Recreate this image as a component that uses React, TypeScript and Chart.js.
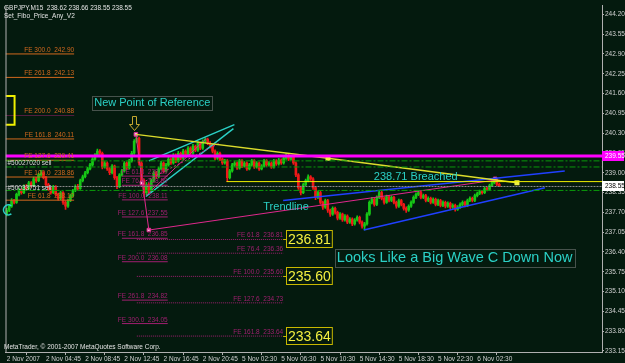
import { useEffect, useRef } from "react";
import { Chart, registerables } from "chart.js";

Chart.register(...registerables);

const symbolName = "GBPJPY,M15";
const indicatorName = "Set_Fibo_Price_Any_V2";
const copyright = "MetaTrader, © 2001-2007 MetaQuotes Software Corp.";

const firstOpen = 237.64;
const closes = [
  237.77, 237.9, 238.09, 238.03, 238.29, 238.42, 238.35, 238.55, 238.48, 238.67,
  238.58, 238.8, 238.74, 238.93, 239.0, 238.84, 238.61, 238.48, 238.35, 238.55,
  238.29, 238.16, 238.35, 238.03, 237.9, 238.09, 238.25, 238.42, 238.55, 238.48,
  238.74, 238.87, 239.0, 239.13, 239.26, 239.45, 239.58, 239.71, 239.64, 239.19,
  239.32, 239.13, 239.0, 239.22, 238.84, 238.55, 238.93, 239.06, 239.32, 239.16,
  239.39, 239.64, 240.03, 240.13, 239.32, 238.74, 238.35, 238.61, 238.42, 238.74,
  239.0, 238.87, 239.13, 239.32, 239.06, 239.26, 239.45, 239.32, 239.58, 239.39,
  239.64, 239.48, 239.71, 239.58, 239.81, 239.64, 239.87, 239.74, 239.97, 239.81,
  240.03, 240.1, 239.97, 239.9, 239.71, 239.48, 239.64, 239.45, 239.32, 239.39,
  238.84, 239.06, 239.26, 239.32, 239.16, 239.39, 239.22, 239.32, 239.13, 239.26,
  239.39, 239.19, 239.32, 239.13, 239.22, 239.39, 239.26, 239.32, 239.19, 239.39,
  239.29, 239.42, 239.32, 239.48, 239.58, 239.45, 239.51, 239.32, 238.93, 238.51,
  238.35, 238.61, 238.74, 238.87, 238.8, 238.51, 238.19, 238.35, 238.03, 237.87,
  238.09, 237.77, 237.64, 237.83, 237.7, 237.51, 237.64, 237.45, 237.58, 237.38,
  237.48, 237.32, 237.45, 237.54, 237.38, 237.25, 237.32, 237.64, 238.03, 238.13,
  237.96, 238.19, 238.35, 238.16, 238.03, 238.22, 238.09, 238.19, 238.03, 237.9,
  238.09, 237.96, 237.83, 237.77, 237.9, 238.03, 238.19, 238.29, 238.35, 238.19,
  238.25, 238.09, 238.16, 238.03, 238.13, 237.96, 238.09, 237.93, 238.03, 237.9,
  238.0, 237.87, 237.93, 237.8, 237.87, 237.96, 238.03, 237.93, 238.09, 238.16,
  238.09, 238.25, 238.32, 238.38, 238.35, 238.48, 238.45, 238.58, 238.67, 238.77,
  238.62, 238.55,
];
const highs = [
  237.83, 237.96, 238.15, 238.13, 238.33, 238.48, 238.47, 238.6, 238.61, 238.72,
  238.71, 238.86, 238.85, 238.98, 239.08, 239.04, 238.88, 238.65, 238.52, 238.59,
  238.58, 238.33, 238.4, 238.38, 238.08, 238.14, 238.3, 238.46, 238.6, 238.62,
  238.79, 238.92, 239.05, 239.18, 239.31, 239.5, 239.63, 239.78, 239.76, 239.68,
  239.37, 239.36, 239.17, 239.27, 239.25, 238.88, 238.97, 239.11, 239.37, 239.36,
  239.44, 239.7, 240.09, 240.26, 240.17, 239.37, 238.8, 238.68, 238.66, 238.8,
  239.06, 239.05, 239.19, 239.38, 239.36, 239.31, 239.51, 239.49, 239.63, 239.62,
  239.7, 239.68, 239.77, 239.75, 239.86, 239.85, 239.93, 239.91, 240.02, 240.01,
  240.08, 240.15, 240.14, 240.02, 239.94, 239.75, 239.69, 239.68, 239.49, 239.44,
  239.43, 239.11, 239.31, 239.37, 239.36, 239.44, 239.43, 239.37, 239.36, 239.31,
  239.44, 239.43, 239.37, 239.36, 239.27, 239.44, 239.43, 239.37, 239.36, 239.44,
  239.43, 239.47, 239.46, 239.53, 239.63, 239.62, 239.57, 239.55, 239.36, 238.97,
  238.56, 238.66, 238.79, 238.93, 238.91, 238.84, 238.55, 238.4, 238.39, 238.07,
  238.14, 238.13, 237.81, 237.88, 237.87, 237.74, 237.69, 237.68, 237.63, 237.62,
  237.53, 237.52, 237.5, 237.59, 237.58, 237.42, 237.37, 237.69, 238.08, 238.19,
  238.17, 238.24, 238.41, 238.39, 238.2, 238.27, 238.26, 238.24, 238.23, 238.07,
  238.14, 238.13, 238.0, 237.88, 237.95, 238.08, 238.24, 238.34, 238.41, 238.39,
  238.3, 238.29, 238.21, 238.2, 238.18, 238.17, 238.14, 238.13, 238.08, 238.07,
  238.05, 238.04, 237.98, 237.97, 237.92, 238.01, 238.08, 238.07, 238.14, 238.21,
  238.2, 238.3, 238.37, 238.43, 238.42, 238.53, 238.52, 238.63, 238.72, 238.81,
  238.8, 238.66,
];
const lows = [
  237.58, 237.72, 237.86, 237.98, 237.99, 238.24, 238.3, 238.31, 238.42, 238.44,
  238.52, 238.55, 238.68, 238.71, 238.89, 238.8, 238.55, 238.42, 238.3, 238.31,
  238.24, 238.1, 238.12, 237.96, 237.8, 237.86, 238.05, 238.21, 238.38, 238.43,
  238.45, 238.7, 238.83, 238.96, 239.09, 239.22, 239.41, 239.54, 239.58, 239.13,
  239.15, 239.08, 238.94, 238.96, 238.78, 238.48, 238.51, 238.89, 239.02, 239.11,
  239.12, 239.35, 239.6, 239.98, 239.25, 238.66, 238.22, 238.28, 238.3, 238.38,
  238.7, 238.81, 238.83, 239.09, 239.0, 239.02, 239.22, 239.27, 239.28, 239.33,
  239.35, 239.43, 239.44, 239.52, 239.54, 239.59, 239.6, 239.69, 239.7, 239.76,
  239.77, 239.99, 239.92, 239.85, 239.65, 239.42, 239.44, 239.4, 239.27, 239.28,
  238.71, 238.8, 239.02, 239.21, 239.11, 239.12, 239.17, 239.18, 239.08, 239.09,
  239.22, 239.14, 239.15, 239.08, 239.09, 239.18, 239.21, 239.22, 239.14, 239.15,
  239.24, 239.25, 239.27, 239.28, 239.44, 239.4, 239.41, 239.27, 238.87, 238.45,
  238.27, 238.31, 238.57, 238.7, 238.75, 238.45, 238.12, 238.15, 237.97, 237.8,
  237.83, 237.7, 237.57, 237.6, 237.64, 237.45, 237.47, 237.4, 237.41, 237.33,
  237.34, 237.26, 237.28, 237.41, 237.32, 237.18, 237.12, 237.28, 237.6, 237.98,
  237.9, 237.92, 238.15, 238.11, 237.97, 237.99, 238.04, 238.05, 237.98, 237.84,
  237.86, 237.91, 237.77, 237.7, 237.73, 237.86, 237.99, 238.15, 238.25, 238.14,
  238.15, 238.04, 238.05, 237.98, 237.99, 237.91, 237.92, 237.88, 237.89, 237.85,
  237.86, 237.82, 237.83, 237.74, 237.76, 237.83, 237.92, 237.88, 237.89, 238.05,
  238.04, 238.05, 238.21, 238.28, 238.3, 238.31, 238.4, 238.41, 238.54, 238.63,
  238.58, 238.55,
];

const xTickIndex = [0, 16, 32, 48, 64, 80, 96, 112, 128, 144, 160, 176, 192];
const xTickLabels = [
  "2 Nov 2007", "2 Nov 04:45", "2 Nov 08:45", "2 Nov 12:45", "2 Nov 16:45", "2 Nov 20:45",
  "5 Nov 02:30", "5 Nov 06:30", "5 Nov 10:30", "5 Nov 14:30", "5 Nov 18:30", "5 Nov 22:30", "6 Nov 02:30",
];
const yTickValues = [
  233.15, 233.8, 234.45, 235.1, 235.75, 236.4, 237.05, 237.7, 238.35, 239.0,
  239.65, 240.3, 240.95, 241.6, 242.25, 242.9, 243.55, 244.2,
];

// horizontal levels
const magentaLevel = 239.55;
const breachLevel = 238.71;
const breachStartIdx = 89.7;
const orderLevels = [239.39, 239.19, 238.42];
const orderLabels = ["#50027020 sell", "#50033751 sell"];
const orderLabelPrices = [239.32, 238.5];

// Fibonacci expansion sets
const leftFeLevels = [300.0, 261.8, 200.0, 161.8, 127.6, 100.0, 61.8];
const leftFePrices = [242.9, 242.13, 240.88, 240.11, 239.41, 238.86, 238.1];
const leftFeSpan = [-0.5, 27.5];
const midFeLevels = [61.8, 76.4, 100.0, 127.6, 161.8, 200.0, 261.8, 300.0];
const midFePrices = [238.89, 238.59, 238.11, 237.55, 236.85, 236.08, 234.82, 234.05];
const midFeSpan = [47.0, 65.7];
const rightFeLevels = [61.8, 76.4, 100.0, 127.6, 161.8];
const rightFePrices = [236.81, 236.36, 235.6, 234.73, 233.64];
const rightFeSpan = [53.1, 112.8];
const targetPrices = [236.81, 235.6, 233.64];
const targetBoxIdx = 113.8;

// drawn objects, as [bar index, price]
const yellowTrendPts = [[52.7, 240.26], [131.1, 239.48], [208.2, 238.67]];
const blueUpperPts = [[112.8, 238.09], [227.7, 239.06]];
const blueLowerPts = [[145.7, 237.12], [219.6, 238.51]];
const pinkTrendPts = [[58.0, 237.12], [200.1, 238.77]];
const pinkSwingPts = [[52.7, 240.26], [58.0, 237.12]];
const pinkWedgePts1 = [[56.8, 238.25], [81.5, 240.13]];
const pinkWedgePts2 = [[55.2, 238.67], [86.8, 239.97]];
const cyanUpperPts = [[58.0, 239.39], [92.9, 240.58]];
const cyanLowerPts = [[56.8, 238.22], [92.5, 240.45]];
const pivotMarkerPts = [[52.7, 240.26], [55.2, 238.67], [58.0, 237.12], [199.3, 238.8]];
const leftBracketPts = [[-0.5, 241.52], [3.2, 241.52], [3.2, 240.58], [-0.5, 240.58]];
const arrowTip = [51.9, 240.39];
const cyanArcCenter = [0.7, 237.78];

const noteTexts = ["New Point of Reference", "238.71 Breached", "Trendline", "Looks Like a Big Wave C Down Now"];
const noteX = [35.7, 149.8, 104.7, 134.7];
const noteY = [241.29, 238.85, 237.88, 236.19];

const X_MIN = -0.5;
const X_MAX = 242.9;

const BG = "#041a0e";
const FONT = "'Liberation Sans', Arial, sans-serif";
const GREEN = "#16c816";
const RED = "#f01818";
const ORANGE = "#d2691e";
const PURPLE = "#a01f70";
const PINK = "#e0288c";
const CYAN = "#2bd1c6";
const AXIS = "#b0b0b0";

const opens = closes.map((_, i) => (i === 0 ? firstOpen : closes[i - 1]));
const candleColors = closes.map((c, i) => (c >= opens[i] ? GREEN : RED));

function line(pts: number[][], color: string, width: number, dash: number[] = []) {
  return {
    type: "line" as const,
    data: pts.map(([x, y]) => ({ x, y })),
    borderColor: color,
    backgroundColor: color,
    borderWidth: width,
    borderDash: dash,
    pointRadius: 0,
    fill: false,
    tension: 0,
    order: 0,
  };
}

const overlay = {
  id: "overlay",
  beforeDraw(chart: any) {
    const { ctx, width, height } = chart;
    ctx.save();
    ctx.fillStyle = BG;
    ctx.fillRect(0, 0, width, height);
    ctx.restore();
  },
  afterDraw(chart: any) {
    const { ctx, chartArea: ca, width } = chart;
    const xs = chart.scales.x;
    const ys = chart.scales.y;
    const px = (v: number) => xs.getPixelForValue(v);
    const py = (v: number) => ys.getPixelForValue(v);
    ctx.save();

    // left frame line
    ctx.strokeStyle = AXIS;
    ctx.lineWidth = 1;
    ctx.beginPath();
    ctx.moveTo(ca.left + 0.5, ca.top);
    ctx.lineTo(ca.left + 0.5, ca.bottom);
    ctx.stroke();

    const small = `6.5px ${FONT}`;
    ctx.font = small;
    ctx.textBaseline = "alphabetic";

    // header
    const n = closes.length - 1;
    ctx.fillStyle = "#e4e4e4";
    ctx.textAlign = "left";
    ctx.fillText(
      `${symbolName}  ${opens[n].toFixed(2)} ${highs[n].toFixed(2)} ${lows[n].toFixed(2)} ${closes[n].toFixed(2)}`,
      4, 10
    );
    ctx.fillText(indicatorName, 4, 18);
    ctx.fillText(copyright, 4, ca.bottom - 3);

    // order labels
    ctx.fillStyle = "#d8d8d8";
    orderLabels.forEach((t, i) => {
      ctx.textBaseline = "middle";
      ctx.fillText(t, px(0.3), py(orderLabelPrices[i]));
    });
    ctx.textBaseline = "alphabetic";

    // FE labels
    ctx.textAlign = "right";
    ctx.fillStyle = ORANGE;
    leftFePrices.forEach((p, i) =>
      ctx.fillText(`FE ${leftFeLevels[i].toFixed(1)}  ${p.toFixed(2)}`, px(leftFeSpan[1]), py(p) - 2)
    );
    ctx.fillStyle = PURPLE;
    midFePrices.forEach((p, i) =>
      ctx.fillText(`FE ${midFeLevels[i].toFixed(1)}  ${p.toFixed(2)}`, px(midFeSpan[1]), py(p) - 2)
    );
    rightFePrices.forEach((p, i) =>
      ctx.fillText(`FE ${rightFeLevels[i].toFixed(1)}  ${p.toFixed(2)}`, px(rightFeSpan[1]), py(p) - 2)
    );

    // yellow target boxes
    ctx.font = `14px ${FONT}`;
    ctx.textAlign = "left";
    ctx.textBaseline = "middle";
    targetPrices.forEach((p) => {
      const y = Math.round(py(p));
      const x0 = Math.round(px(targetBoxIdx));
      const t = p.toFixed(2);
      const w = ctx.measureText(t).width;
      ctx.strokeStyle = "#c8b800";
      ctx.lineWidth = 1;
      ctx.beginPath();
      ctx.moveTo(px(rightFeSpan[1]), y + 0.5);
      ctx.lineTo(x0, y + 0.5);
      ctx.stroke();
      ctx.strokeRect(x0 + 0.5, y - 8.5, w + 3, 17);
      ctx.fillStyle = "#f4f040";
      ctx.fillText(t, x0 + 2, y + 1);
    });

    // cyan notes
    noteTexts.forEach((t, i) => {
      const big = i === 3;
      ctx.font = `${big ? 14.5 : 11}px ${FONT}`;
      ctx.fillStyle = CYAN;
      ctx.textAlign = "left";
      ctx.textBaseline = "middle";
      const x = px(noteX[i]);
      const y = py(noteY[i]);
      ctx.fillText(t, x, y);
      if (i === 0 || big) {
        const w = ctx.measureText(t).width;
        const h = big ? 18 : 14;
        ctx.strokeStyle = "#8a8a8a";
        ctx.setLineDash([1, 1]);
        ctx.strokeRect(Math.round(x - 2) + 0.5, Math.round(y - h / 2) + 0.5, Math.round(w + 4), h);
        ctx.setLineDash([]);
      }
    });

    // down arrow
    const ax = Math.round(px(arrowTip[0])) + 0.5;
    const ay = Math.round(py(arrowTip[1])) + 0.5;
    ctx.strokeStyle = "#c4a830";
    ctx.lineWidth = 1;
    ctx.beginPath();
    ctx.moveTo(ax, ay);
    ctx.lineTo(ax - 5, ay - 6);
    ctx.lineTo(ax - 2, ay - 6);
    ctx.lineTo(ax - 2, ay - 14);
    ctx.lineTo(ax + 2, ay - 14);
    ctx.lineTo(ax + 2, ay - 6);
    ctx.lineTo(ax + 5, ay - 6);
    ctx.closePath();
    ctx.stroke();

    // cyan arc at far left
    ctx.strokeStyle = CYAN;
    ctx.lineWidth = 1.5;
    ctx.beginPath();
    ctx.arc(px(cyanArcCenter[0]), py(cyanArcCenter[1]), 5, Math.PI * 0.3, Math.PI * 1.7);
    ctx.stroke();

    // axis price boxes
    ctx.font = small;
    ctx.textAlign = "left";
    ctx.textBaseline = "middle";
    const ym = Math.round(py(magentaLevel));
    ctx.fillStyle = "#ff00ff";
    ctx.fillRect(ca.right, ym - 5, width - ca.right - 1, 10);
    ctx.fillStyle = "#ffffff";
    ctx.fillText(magentaLevel.toFixed(2), ca.right + 3, ym);
    const yl = Math.round(py(closes[n]));
    ctx.fillStyle = "#ffffff";
    ctx.fillRect(ca.right, yl - 5, width - ca.right - 1, 10);
    ctx.fillStyle = "#000000";
    ctx.fillText(closes[n].toFixed(2), ca.right + 3, yl);

    ctx.restore();
  },
};

export default function App() {
  const ref = useRef<HTMLCanvasElement>(null);
  useEffect(() => {
    document.body.style.margin = "0";
    document.body.style.background = BG;
    const idx = closes.map((_, i) => i);
    const datasets: any[] = [
      line([[X_MIN, magentaLevel], [X_MAX, magentaLevel]], "#ff00ff", 3),
      line([[breachStartIdx, breachLevel], [X_MAX, breachLevel]], "#f0f000", 1),
      ...orderLevels.map((p) => line([[X_MIN, p], [X_MAX, p]], "#0a9a0a", 1, [6, 2, 2, 2])),
      line([[X_MIN, closes[closes.length - 1]], [X_MAX, closes[closes.length - 1]]], "#8c8c8c", 1, [2, 1]),
      { ...line(yellowTrendPts, "#dcdc2c", 1.5), pointRadius: [0, 2.5, 2.5], pointStyle: "rect", pointBackgroundColor: "#f0f040", pointBorderColor: "#f0f040" },
      line(blueUpperPts, "#2040ff", 1.5),
      line(blueLowerPts, "#2040ff", 1.5),
      line(pinkTrendPts, PINK, 1),
      line(pinkSwingPts, PINK, 1),
      line(pinkWedgePts1, PINK, 1),
      line(pinkWedgePts2, PINK, 1, [2, 2]),
      line(cyanUpperPts, CYAN, 1.5),
      line(cyanLowerPts, CYAN, 1.5),
      {
        ...line(pivotMarkerPts, PINK, 1),
        showLine: false,
        pointRadius: 2.5,
        pointStyle: "rect",
        pointBackgroundColor: "#f8d0e8",
        pointBorderColor: PINK,
        pointBorderWidth: 1,
      },
      line(leftBracketPts, "#f0f000", 2),
      ...leftFePrices.map((p, i) => line([[leftFeSpan[0], p], [leftFeSpan[1], p]], i === 2 ? PURPLE : ORANGE, 1, i === 2 ? [1, 1] : [])),
      ...midFePrices.map((p) => line([[midFeSpan[0], p], [midFeSpan[1], p]], PURPLE, 1)),
      ...rightFePrices.map((p) => line([[rightFeSpan[0], p], [rightFeSpan[1], p]], PURPLE, 1, [1, 1])),
      {
        type: "bar",
        data: idx.map((i) => ({ x: i, y: [Math.min(opens[i], closes[i]), Math.max(opens[i], closes[i])] })),
        backgroundColor: candleColors,
        borderWidth: 0,
        barThickness: 2,
        grouped: false,
        order: 10,
      },
      {
        type: "bar",
        data: idx.map((i) => ({ x: i, y: [lows[i], highs[i]] })),
        backgroundColor: candleColors,
        borderWidth: 0,
        barThickness: 1,
        grouped: false,
        order: 11,
      },
    ];

    const chart = new Chart(ref.current as HTMLCanvasElement, {
      type: "bar",
      data: { datasets },
      plugins: [overlay],
      options: {
        responsive: false,
        animation: false,
        devicePixelRatio: 1,
        layout: { padding: { left: 3, top: 0, right: 0, bottom: 0 } },
        plugins: { legend: { display: false }, tooltip: { enabled: false } },
        events: [],
        scales: {
          x: {
            type: "linear",
            min: X_MIN,
            max: X_MAX,
            offset: false,
            afterBuildTicks: (s: any) => {
              s.ticks = xTickIndex.map((v) => ({ value: v }));
            },
            afterFit: (s: any) => {
              s.height = 11;
            },
            ticks: {
              autoSkip: false,
              maxRotation: 0,
              align: "start",
              padding: 0,
              color: "#d0d0d0",
              font: { size: 6.5, family: FONT },
              callback: (_v: any, i: number) => xTickLabels[i],
            },
            grid: { drawOnChartArea: false, tickLength: 3, color: AXIS },
            border: { color: AXIS },
          },
          y: {
            type: "linear",
            position: "right",
            min: 233.117,
            max: 244.49,
            afterBuildTicks: (s: any) => {
              s.ticks = yTickValues.map((v) => ({ value: v }));
            },
            afterFit: (s: any) => {
              s.width = 23;
            },
            ticks: {
              autoSkip: false,
              padding: 1,
              color: "#d0d0d0",
              font: { size: 6.5, family: FONT },
              callback: (v: any) => Number(v).toFixed(2),
            },
            grid: { drawOnChartArea: false, tickLength: 2, color: AXIS },
            border: { color: AXIS },
          },
        },
      } as any,
    } as any);
    return () => chart.destroy();
  }, []);

  return (
    <div style={{ position: "fixed", left: 0, top: 0, width: 625, height: 363, background: BG }}>
      <canvas ref={ref} width={625} height={363} style={{ display: "block", width: 625, height: 363 }} />
    </div>
  );
}
